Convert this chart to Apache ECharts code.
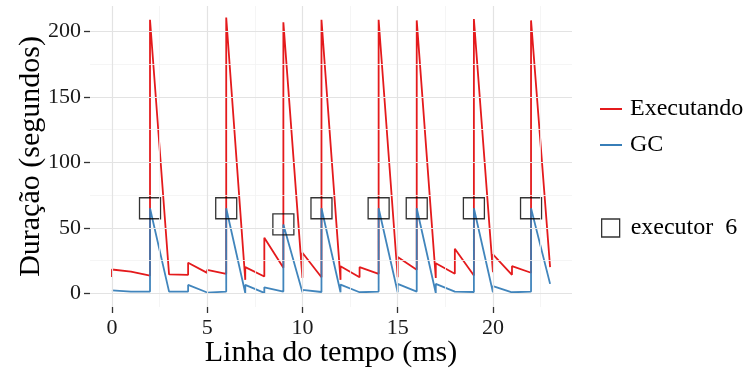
<!DOCTYPE html>
<html><head><meta charset="utf-8">
<script src="https://cdn.jsdelivr.net/npm/echarts@6/dist/echarts.min.js"></script>
<style>html,body{margin:0;padding:0;background:#fff}#c{width:747px;height:370px}</style>
</head><body><div id="c"></div>
<script>
// ---- data ----
const tempo = [0,0,1,1,2,2,3,3,4,4,5,5,6,6,7,7,8,8,9,9,10,10,11,11,12,12,13,13,14,14,15,15,16,16,17,17,18,18,19,19,20,20,21,21,22,22,23];
const executando = [12.4,18.2, 16.6,17.9, 13.6,209, 14.4,14.4, 14.1,23.3, 15.6,18, 14.9,210.7, 10.3,20, 12.8,42.5, 19.5,207,
  11.8,31, 12.3,209, 10.3,20.7, 12.3,20, 14.9,209, 12.3,27.7, 18,208.5, 11.8,23, 14.9,34.1, 13.6,209.5, 16.1,29.7, 14.1,20.7, 15.7,208.5, 20];
const gc = [2.3,2.3, 1.3,1.3, 1.3,65, 1.3,1.3, 1.3,6.4, 0.6,0.6, 1.3,65, 0.3,6.4, 0.3,4.6, 1.3,52.6,
  0.8,2.6, 1.0,65, 0.8,6.7, 0.8,0.8, 1.3,65, 0.8,7.2, 1.3,65, 0.3,7.2, 1.3,1.3, 1.0,65, 0.8,5.5, 0.8,0.8, 1.3,65, 7.2];
const executorTempo = [2,6,9,11,14,16,19,22];
const executorDuracao = [65,65,52.6,65,65,65,65,65];
const xTicks = [0,5,10,15,20];
const yTicks = [0,50,100,150,200];
const xMinor = [2.5,7.5,12.5,17.5,22.5];
const yMinor = [25,75,125,175];

// ---- chart ----
const FONT = '"Liberation Serif", "DejaVu Serif", serif';
const pairs = (xs, ys) => ys.map((y, i) => [xs[i], y]);
const major = {color:'#E3E3E3', width:1.2, type:'solid'};
const minor = {color:'#F3F3F3', width:0.8, type:'solid'};
const gridLines = [
  ...xMinor.map(v => ({xAxis:v, lineStyle:minor})),
  ...yMinor.map(v => ({yAxis:v, lineStyle:minor})),
  ...xTicks.map(v => ({xAxis:v, lineStyle:major})),
  ...yTicks.map(v => ({yAxis:v, lineStyle:major}))
];
const chart = echarts.init(document.getElementById('c'), null, {renderer:'canvas'});
chart.setOption({
  animation:false,
  backgroundColor:'#fff',
  grid:{left:90, right:175, top:6, bottom:63, containLabel:false, outerBoundsMode:'none'},
  xAxis:{type:'value', min:-1.15, max:24.15,
    splitLine:{show:false}, axisLine:{show:true, onZero:false, lineStyle:{opacity:0}},
    axisTick:{show:true, length:6, customValues:xTicks, lineStyle:{color:'#333', width:1.3}},
    axisLabel:{customValues:xTicks, fontSize:22, fontFamily:FONT, color:'#1a1a1a', margin:10},
    name:'Linha do tempo (ms)', nameLocation:'middle', nameGap:31, nameMoveOverlap:false,
    nameTextStyle:{fontSize:30, fontFamily:FONT, color:'#000'}},
  yAxis:{type:'value', min:-10.45, max:219.5,
    splitLine:{show:false}, axisLine:{show:true, onZero:false, lineStyle:{opacity:0}},
    axisTick:{show:true, length:6, customValues:yTicks, lineStyle:{color:'#333', width:1.3}},
    axisLabel:{customValues:yTicks, fontSize:22, fontFamily:FONT, color:'#1a1a1a', margin:9},
    name:'Duração (segundos)', nameLocation:'middle', nameGap:44, nameMoveOverlap:false,
    nameTextStyle:{fontSize:30, fontFamily:FONT, color:'#000'}},
  legend:[
    {left:595, top:92, orient:'vertical', itemWidth:22, itemHeight:2, itemGap:12,
     textStyle:{fontSize:24, fontFamily:FONT, color:'#000', lineHeight:24, padding:[0,0,0,3]},
     data:[{name:'Executando', icon:'rect'}, {name:'GC', icon:'rect'}]},
    {left:596, top:211, orient:'vertical', itemWidth:18, itemHeight:18,
     textStyle:{fontSize:24, fontFamily:FONT, color:'#000', lineHeight:24, padding:[0,0,0,6]},
     data:[{name:'executor  6', icon:'rect', itemStyle:{color:'rgba(0,0,0,0)', borderColor:'#000', borderWidth:1.3}}]}
  ],
  series:[
    {type:'line', name:'grid', data:[], silent:true, z:0,
     markLine:{symbol:'none', silent:true, animation:false, label:{show:false}, data:gridLines}},
    {type:'line', name:'Executando', data:pairs(tempo, executando), showSymbol:false, z:2,
     color:'#E41A1C', lineStyle:{color:'#E41A1C', width:1.8}},
    {type:'line', name:'GC', data:pairs(tempo, gc), showSymbol:false, z:3,
     color:'#377EB8', lineStyle:{color:'#377EB8', width:1.8, opacity:0.95}},
    {type:'scatter', name:'executor  6', data:pairs(executorTempo, executorDuracao), z:4,
     symbol:'rect', symbolSize:21,
     itemStyle:{color:'rgba(0,0,0,0)', borderColor:'#000', borderWidth:1.3}}
  ]
});
</script></body></html>
